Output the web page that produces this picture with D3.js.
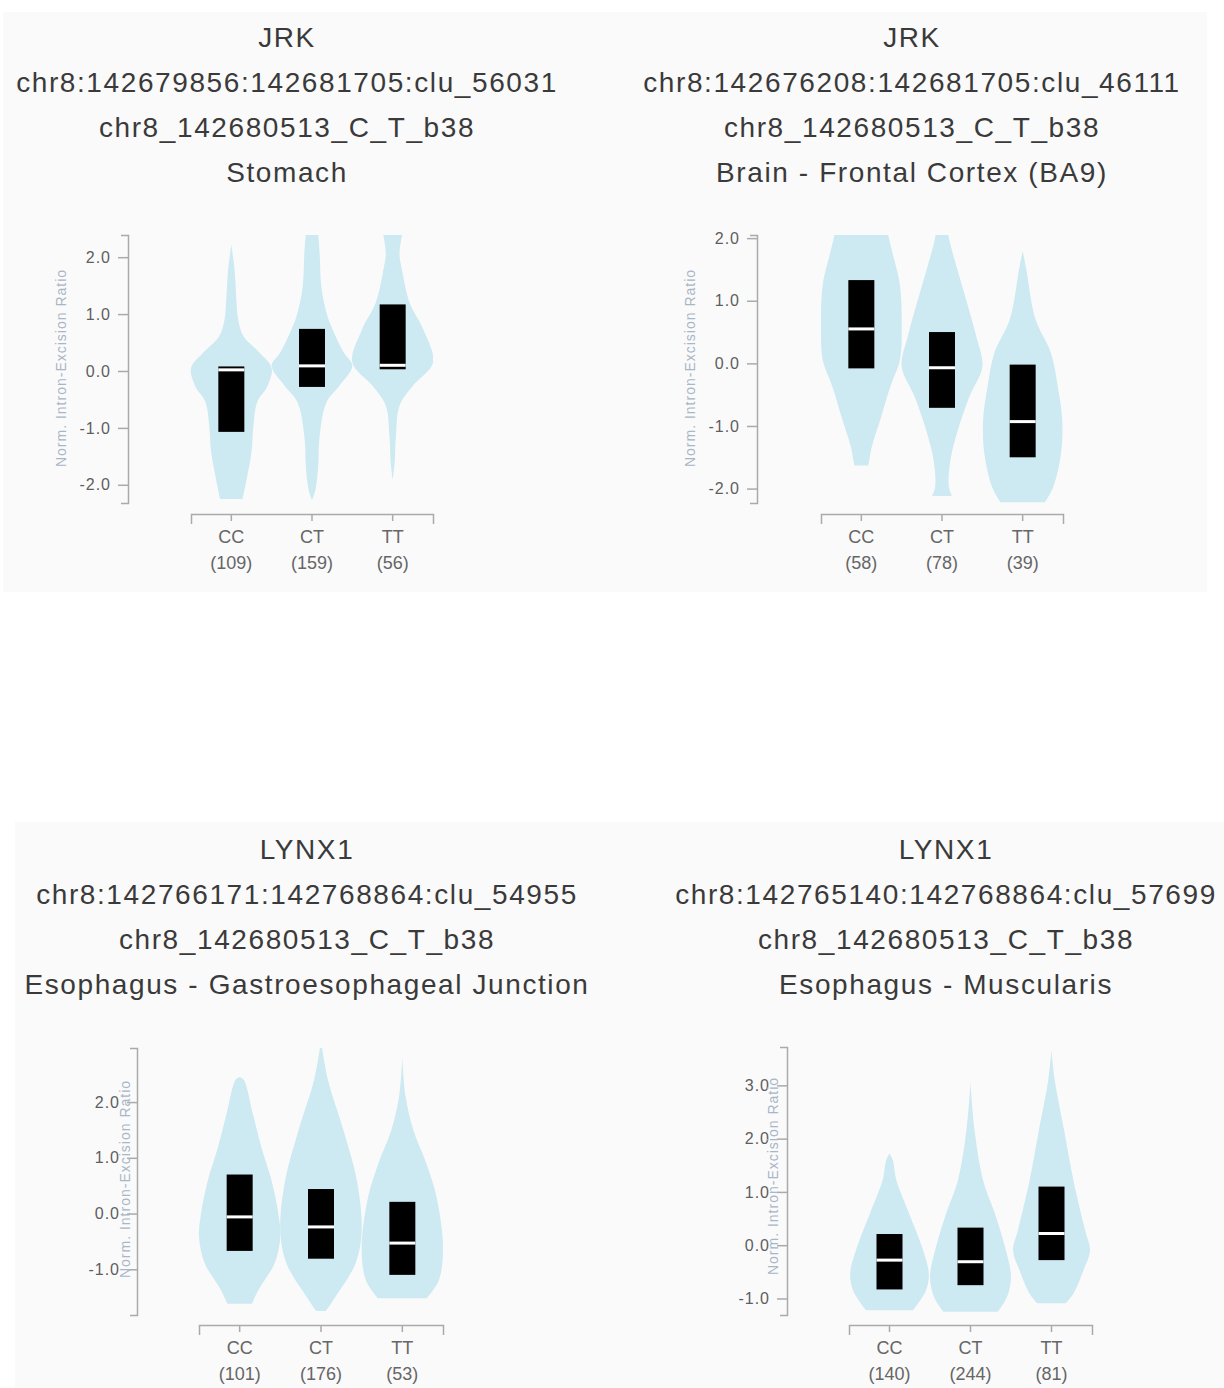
<!DOCTYPE html>
<html>
<head>
<meta charset="utf-8">
<script src="https://cdn.jsdelivr.net/npm/d3@7"></script>
<style>
body { margin: 0; background: #ffffff; }
text { font-family: "Liberation Sans", Arial, sans-serif; }
</style>
</head>
<body>
<div id="chart"></div>
<script>
var svgWidth = 1224;
var svgHeight = 1388;

// Genotype groups on every x axis
var genotypes = ["CC", "CT", "TT"];

// Title lines of the four panels
var genes = ["JRK", "JRK", "LYNX1", "LYNX1"];
var clusters = [
    "chr8:142679856:142681705:clu_56031",
    "chr8:142676208:142681705:clu_46111",
    "chr8:142766171:142768864:clu_54955",
    "chr8:142765140:142768864:clu_57699"];
var variants = ["chr8_142680513_C_T_b38", "chr8_142680513_C_T_b38",
    "chr8_142680513_C_T_b38", "chr8_142680513_C_T_b38"];
var tissues = ["Stomach", "Brain - Frontal Cortex (BA9)",
    "Esophagus - Gastroesophageal Junction", "Esophagus - Muscularis"];

// Samples per genotype
var sampleCounts = [[109, 159, 56], [58, 78, 39], [101, 176, 53], [140, 244, 81]];

// Box (interquartile range) and median per genotype
var boxQ1 = [[-1.07, -0.28, 0.03], [-0.08, -0.71, -1.50], [-0.67, -0.81, -1.10], [-0.83, -0.75, -0.28]];
var boxMedian = [[0.02, 0.09, 0.10], [0.55, -0.07, -0.93], [-0.06, -0.24, -0.53], [-0.28, -0.31, 0.22]];
var boxQ3 = [[0.08, 0.74, 1.17], [1.33, 0.50, -0.02], [0.70, 0.44, 0.21], [0.21, 0.33, 1.10]];

// Y axis ticks and extent
var yTicks = [[-2, -1, 0, 1, 2], [-2, -1, 0, 1, 2], [-1, 0, 1, 2], [-1, 0, 1, 2, 3]];
var yExtents = [[-2.32, 2.39], [-2.23, 2.05], [-1.82, 2.97], [-1.31, 3.72]];

// Violin outlines: [value, half width relative to the widest point]
var violinsStomach = [
    [[2.22, 0], [1.78, 0.08], [1.2, 0.13], [0.9, 0.17], [0.61, 0.3], [0.32, 0.7], [0.05, 1.0],
     [-0.26, 0.9], [-0.55, 0.64], [-0.95, 0.55], [-1.43, 0.5], [-1.9, 0.38], [-2.25, 0.28]],
    [[2.45, 0.15], [2.07, 0.19], [1.49, 0.23], [1.02, 0.36], [0.73, 0.51], [0.32, 0.79], [0.09, 1.0],
     [-0.26, 0.68], [-0.55, 0.36], [-1.14, 0.19], [-1.72, 0.15], [-2.1, 0.08], [-2.27, 0]],
    [[2.45, 0.25], [2.07, 0.17], [1.78, 0.23], [1.2, 0.42], [0.73, 0.76], [0.15, 1.0],
     [-0.26, 0.5], [-0.61, 0.17], [-1.14, 0.08], [-1.6, 0.05], [-1.92, 0]]];
var violinsBrain = [
    [[2.3, 0.6], [2.01, 0.68], [1.77, 0.77], [1.24, 0.96], [0.54, 1.0], [0.06, 0.96],
     [-0.37, 0.72], [-0.9, 0.47], [-1.33, 0.26], [-1.57, 0.19], [-1.63, 0.17]],
    [[2.3, 0.12], [2.01, 0.17], [1.5, 0.38], [0.97, 0.62], [0.43, 0.85], [-0.05, 1.0],
     [-0.53, 0.68], [-1.01, 0.42], [-1.54, 0.21], [-1.97, 0.17], [-2.12, 0.25]],
    [[1.8, 0], [1.5, 0.09], [0.7, 0.32], [0.17, 0.7], [-0.37, 0.87], [-0.9, 0.98],
     [-1.44, 0.95], [-1.97, 0.76], [-2.22, 0.55]]];
var violinsJunction = [
    [[2.45, 0], [2.4, 0.1], [1.8, 0.32], [1.2, 0.53], [0.6, 0.78], [0.0, 0.95],
     [-0.42, 1.0], [-0.89, 0.86], [-1.37, 0.46], [-1.62, 0.3]],
    [[3.1, 0], [2.4, 0.17], [1.5, 0.55], [0.6, 0.88], [-0.3, 1.0],
     [-0.89, 0.85], [-1.49, 0.36], [-1.75, 0.12]],
    [[2.8, 0], [2.1, 0.08], [1.5, 0.27], [0.9, 0.59], [0.3, 0.84], [-0.6, 1.0],
     [-1.19, 0.9], [-1.52, 0.6]]];
var violinsMuscularis = [
    [[1.72, 0], [1.6, 0.08], [1.22, 0.17], [0.6, 0.48], [-0.03, 0.8], [-0.53, 0.97],
     [-0.85, 0.9], [-1.22, 0.58]],
    [[3.06, 0], [2.16, 0.1], [1.22, 0.31], [0.6, 0.6], [-0.03, 0.85], [-0.6, 1.0],
     [-0.97, 0.9], [-1.25, 0.67]],
    [[3.66, 0], [3.1, 0.08], [2.16, 0.31], [1.22, 0.54], [0.28, 0.83], [-0.1, 0.95],
     [-0.47, 0.79], [-0.91, 0.54], [-1.09, 0.35]]];
var violins = [violinsStomach, violinsBrain, violinsJunction, violinsMuscularis];

// Where each panel sits on the page
var layout = [
    {titleX: 287, titleY: 47, axisX: 128, top: 235, bottom: 503, xAxisY: 514, left: 191, right: 433, labelX: 61, labelY: 368},
    {titleX: 912, titleY: 47, axisX: 757, top: 235, bottom: 503, xAxisY: 514, left: 821, right: 1063, labelX: 690, labelY: 368},
    {titleX: 307, titleY: 859, axisX: 137, top: 1048, bottom: 1315, xAxisY: 1325, left: 199, right: 443, labelX: 125, labelY: 1179},
    {titleX: 946, titleY: 859, axisX: 787, top: 1047, bottom: 1315, xAxisY: 1325, left: 849, right: 1092, labelX: 773, labelY: 1176}];

var svg = d3.select("#chart")
    .append("svg")
    .attr("width", svgWidth)
    .attr("height", svgHeight);

// faint panel backgrounds
svg.append("rect")
    .attr("x", 3).attr("y", 12)
    .attr("width", 1204).attr("height", 580)
    .attr("fill", "#fafafa");
svg.append("rect")
    .attr("x", 15).attr("y", 822)
    .attr("width", 1209).attr("height", 566)
    .attr("fill", "#fafafa");

layout.forEach(function(p, i) {
    var g = svg.append("g");

    // Title block
    var title = g.append("text")
        .attr("x", p.titleX)
        .attr("y", p.titleY)
        .attr("text-anchor", "middle")
        .attr("font-size", 28)
        .attr("letter-spacing", 1.6)
        .attr("fill", "#3a3a3a");
    [genes[i], clusters[i], variants[i], tissues[i]].forEach(function(line, k) {
        title.append("tspan")
            .attr("x", p.titleX)
            .attr("dy", k == 0 ? 0 : 45)
            .text(line);
    });

    var yScale = d3.scaleLinear()
        .domain(yExtents[i])
        .range([p.bottom, p.top]);

    var xScale = d3.scaleBand()
        .domain(genotypes)
        .range([p.left, p.right]);
    var halfWidth = xScale.bandwidth() / 2;
    var boxWidth = 26;

    // clip the violins to the plot area
    g.append("clipPath")
        .attr("id", "clip" + i)
        .append("rect")
        .attr("x", p.axisX)
        .attr("y", p.top)
        .attr("width", p.right - p.axisX)
        .attr("height", p.bottom - p.top);

    var plot = g.append("g").attr("clip-path", "url(#clip" + i + ")");

    genotypes.forEach(function(gt, j) {
        var cx = xScale(gt) + halfWidth;
        var outline = violins[i][j].slice().sort((a, b) => b[0] - a[0]);
        var area = d3.area()
            .curve(d3.curveCatmullRom)
            .y(d => yScale(d[0]))
            .x0(d => cx - d[1] * halfWidth)
            .x1(d => cx + d[1] * halfWidth);
        plot.append("path")
            .attr("d", area(outline))
            .attr("fill", "#cde9f2");

        plot.append("rect")
            .attr("x", cx - boxWidth / 2)
            .attr("y", yScale(boxQ3[i][j]))
            .attr("width", boxWidth)
            .attr("height", yScale(boxQ1[i][j]) - yScale(boxQ3[i][j]))
            .attr("fill", "#000");
        plot.append("line")
            .attr("x1", cx - boxWidth / 2)
            .attr("x2", cx + boxWidth / 2)
            .attr("y1", yScale(boxMedian[i][j]))
            .attr("y2", yScale(boxMedian[i][j]))
            .attr("stroke", "#fff")
            .attr("stroke-width", 3);
    });

    // Y axis
    var yAxis = g.append("g")
        .attr("transform", `translate(${p.axisX}, 0)`)
        .call(d3.axisLeft(yScale)
            .tickValues(yTicks[i])
            .tickFormat(d => d.toFixed(1))
            .tickSizeInner(10)
            .tickSizeOuter(7)
            .tickPadding(7));
    yAxis.selectAll("path, line").attr("stroke", "#aaa").attr("stroke-width", 1.5);
    yAxis.selectAll("text")
        .attr("font-size", 16)
        .attr("letter-spacing", 1)
        .attr("fill", "#5e5e5e");

    // Y axis label
    g.append("text")
        .attr("transform", `translate(${p.labelX}, ${p.labelY}) rotate(-90)`)
        .attr("text-anchor", "middle")
        .attr("dy", "0.35em")
        .attr("font-size", 14)
        .attr("letter-spacing", 1)
        .attr("fill", "#a9b6c6")
        .text("Norm. Intron-Excision Ratio");

    // X axis
    var xAxis = g.append("g")
        .attr("transform", `translate(0, ${p.xAxisY})`)
        .call(d3.axisBottom(xScale)
            .tickFormat("")
            .tickSizeInner(7)
            .tickSizeOuter(10));
    xAxis.selectAll("path, line").attr("stroke", "#aaa").attr("stroke-width", 1.5);

    genotypes.forEach(function(gt, j) {
        var cx = xScale(gt) + halfWidth;
        g.append("text")
            .attr("x", cx)
            .attr("y", p.xAxisY + 29)
            .attr("text-anchor", "middle")
            .attr("font-size", 18)
            .attr("fill", "#666")
            .text(gt);
        g.append("text")
            .attr("x", cx)
            .attr("y", p.xAxisY + 55)
            .attr("text-anchor", "middle")
            .attr("font-size", 18)
            .attr("fill", "#666")
            .text("(" + sampleCounts[i][j] + ")");
    });
});
</script>
</body>
</html>
